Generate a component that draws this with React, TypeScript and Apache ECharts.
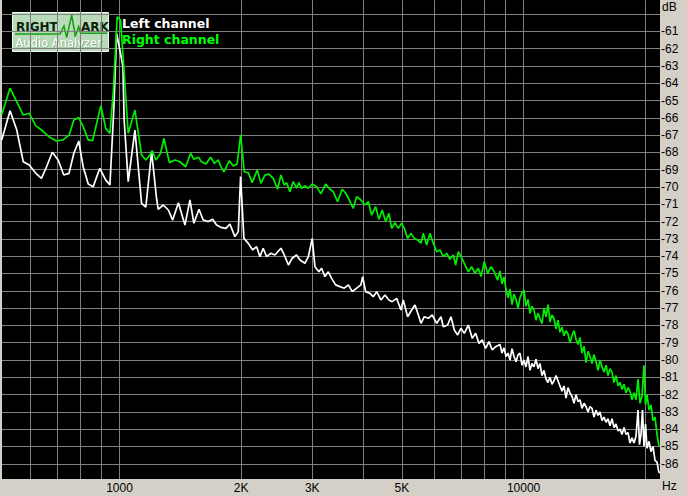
import React, { useEffect, useRef } from "react";
import * as echarts from "echarts";

// Frequency grid (Hz) and labels
const xGridValues: number[] = [600, 700, 800, 900, 1000, 2000, 3000, 4000, 5000, 6000, 7000, 8000, 9000, 10000, 20000];
const xLabelValues: number[] = [1000, 2000, 3000, 5000, 10000];
const xLabelTexts: string[] = ["1000", "2K", "3K", "5K", "10000"];

// Level grid (dB)
const yGridValues: number[] = [-86, -85, -84, -83, -82, -81, -80, -79, -78, -77, -76, -75, -74, -73, -72, -71, -70, -69, -68, -67, -66, -65, -64, -63, -62, -61, -60];
const yLabelValues: number[] = [-86, -85, -84, -83, -82, -81, -80, -79, -78, -77, -76, -75, -74, -73, -72, -71, -70, -69, -68, -67, -66, -65, -64, -63, -62, -61];

const xMin = 512;
const xMax = 21758;
const yMin = -86.88;
const yMax = -59.19;

// Left channel: [frequency Hz, level dB]
const leftChannel: [number, number][] = [
  [511, -67.28], [536, -65.59], [557, -66.71], [578, -68.54], [598, -68.73], [621, -69.21], [641, -69.5], [660, -68.83],
  [682, -67.99], [705, -68.44], [728, -69.31], [750, -69.21], [771, -68.05], [793, -67.34], [813, -68.83], [837, -69.83],
  [861, -69.98], [894, -68.92], [925, -69.6], [947, -69.88], [968, -65.55], [984, -61.12], [1002, -62.08], [1020, -63.05],
  [1027, -66.13], [1051, -69.69], [1092, -66.71], [1134, -70.94], [1162, -71.17], [1201, -67.96], [1235, -70.65], [1247, -71.29],
  [1283, -71.04], [1321, -71.33], [1354, -71.91], [1399, -70.91], [1452, -72.2], [1494, -70.75], [1528, -72.1], [1573, -71.29],
  [1611, -71.91], [1659, -72.0], [1700, -71.86], [1739, -72.2], [1782, -72.33], [1834, -72.39], [1876, -72.14], [1930, -72.87],
  [1968, -72.58], [1994, -69.4], [2032, -72.97], [2084, -73.26], [2136, -73.64], [2185, -73.45], [2226, -74.03], [2268, -73.54],
  [2313, -74.03], [2370, -73.83], [2425, -73.93], [2509, -73.54], [2557, -73.93], [2619, -74.51], [2675, -74.12], [2744, -73.93],
  [2796, -74.22], [2877, -74.41], [2933, -74.03], [2999, -72.97], [3046, -74.61], [3116, -74.9], [3163, -74.7], [3224, -75.18],
  [3287, -74.9], [3349, -75.28], [3427, -75.66], [3512, -75.76], [3600, -75.85], [3684, -75.66], [3767, -76.05], [3863, -75.85],
  [3958, -75.66], [3997, -75.18], [4066, -76.05], [4167, -76.15], [4246, -76.34], [4330, -76.05], [4436, -76.53], [4539, -76.24],
  [4643, -76.53], [4731, -76.63], [4852, -76.44], [4972, -77.11], [5038, -76.53], [5165, -77.5], [5285, -77.11], [5386, -76.82],
  [5491, -77.4], [5573, -77.88], [5680, -77.5], [5813, -77.59], [5942, -77.4], [6095, -77.88], [6245, -77.5], [6328, -78.08],
  [6487, -77.98], [6612, -77.5], [6738, -78.27], [6867, -78.55], [7000, -78.17], [7134, -78.46], [7299, -77.98], [7464, -78.75],
  [7611, -78.46], [7756, -79.04], [7901, -78.84], [8057, -79.33], [8211, -78.94], [8365, -79.42], [8530, -79.23],
  [8742, -79.1], [8843, -79.6], [8944, -79.3], [9047, -79.8], [9151, -79.6], [9255, -80.0], [9362, -79.35], [9470, -79.8],
  [9579, -80.1], [9689, -79.7], [9797, -79.6], [9910, -80.3], [10024, -80.0], [10139, -80.4], [10256, -79.8], [10372, -80.6],
  [10491, -80.2], [10612, -80.4], [10734, -79.95], [10857, -80.5], [10980, -80.2], [11106, -80.9], [11234, -80.6], [11363, -81.1],
  [11494, -81.3], [11624, -81.0], [11758, -81.4], [11893, -81.2], [12030, -80.9], [12168, -81.2], [12306, -81.5], [12448, -81.8],
  [12591, -81.5], [12736, -82.2], [12882, -81.6], [13028, -81.9], [13178, -82.1], [13330, -82.5], [13483, -82.0], [13638, -82.4],
  [13792, -82.3], [13951, -82.8], [14111, -82.5], [14274, -82.7], [14438, -83.0], [14601, -82.7], [14769, -82.8], [14939, -83.3],
  [15111, -82.9], [15285, -83.2], [15457, -83.0], [15635, -83.5], [15815, -83.3], [15997, -83.6], [16181, -83.4], [16364, -83.8],
  [16552, -83.4], [16743, -83.9], [16935, -83.7], [17130, -84.1], [17323, -84.0], [17522, -84.3], [17724, -83.9], [17928, -84.3],
  [18134, -84.2], [18339, -84.8], [18550, -84.5], [18764, -84.8], [18979, -84.4], [19198, -82.9], [19358, -84.9], [19525, -84.3],
  [19693, -82.9], [19863, -85.0], [20034, -83.7], [20207, -85.1], [20437, -84.7], [20670, -85.3], [20908, -85.0], [21149, -85.8],
  [21392, -85.9], [21578, -86.4], [21700, -86.55],
];

// Right channel: [frequency Hz, level dB]
const rightChannel: [number, number][] = [
  [511, -65.84], [536, -64.29], [578, -65.84], [598, -65.74], [621, -66.47], [645, -66.75], [672, -67.13], [698, -67.34],
  [725, -67.28], [751, -66.99], [771, -66.13], [793, -65.99], [813, -66.51], [837, -67.28], [858, -67.32], [899, -65.3],
  [925, -66.61], [947, -66.9], [966, -64.4], [987, -60.16], [1006, -60.35], [1022, -62.66], [1051, -66.9], [1092, -65.55],
  [1134, -68.15], [1162, -68.44], [1189, -68.15], [1205, -67.9], [1231, -68.44], [1264, -68.05], [1288, -67.19], [1329, -68.59],
  [1372, -68.44], [1411, -68.54], [1458, -68.83], [1500, -68.05], [1528, -68.4], [1568, -68.28], [1596, -68.54], [1636, -68.67],
  [1681, -68.28], [1716, -68.63], [1756, -68.44], [1779, -68.79], [1813, -69.12], [1870, -68.48], [1912, -68.79], [1955, -68.67],
  [1994, -66.99], [2036, -69.12], [2084, -69.18], [2130, -69.75], [2192, -69.02], [2239, -69.79], [2290, -69.31], [2343, -69.25],
  [2402, -69.5], [2462, -70.13], [2509, -69.31], [2557, -69.88], [2592, -69.75], [2641, -70.27], [2691, -69.69], [2744, -70.07],
  [2780, -69.75], [2823, -70.07], [2877, -69.94], [2933, -70.07], [2999, -69.83], [3075, -69.98], [3151, -70.4], [3237, -69.83],
  [3317, -70.13], [3380, -70.27], [3465, -70.85], [3558, -70.13], [3628, -70.36], [3697, -70.71], [3789, -71.23], [3863, -70.56],
  [3958, -70.75], [4050, -71.04], [4129, -70.85], [4207, -71.62], [4305, -71.14], [4387, -71.87], [4468, -71.33], [4557, -72.0],
  [4643, -71.52], [4715, -72.39], [4805, -72.07], [4899, -72.39], [4992, -72.1], [5068, -72.39], [5165, -72.97], [5264, -72.68],
  [5365, -72.97], [5467, -73.06], [5573, -73.25], [5646, -72.68], [5757, -73.35], [5866, -72.68], [5977, -73.25], [6095, -73.74],
  [6210, -73.64], [6328, -74.03], [6452, -73.83], [6574, -74.18], [6699, -73.93], [6791, -74.51], [6896, -73.74], [7000, -74.03],
  [7134, -74.41], [7299, -74.9], [7439, -74.61], [7582, -74.99], [7729, -74.7], [7845, -75.18], [7995, -74.32], [8148, -74.99],
  [8305, -74.61], [8464, -74.9], [8626, -75.38],
  [8742, -74.85], [8843, -75.6], [8944, -75.2], [9047, -75.9], [9151, -76.4], [9255, -75.9], [9362, -76.8], [9470, -76.2],
  [9579, -76.5], [9689, -77.0], [9797, -76.4], [9910, -76.1], [10024, -75.95], [10139, -76.9], [10256, -76.5], [10372, -77.3],
  [10491, -76.9], [10612, -77.1], [10734, -77.7], [10857, -77.3], [10980, -77.6], [11106, -77.9], [11234, -77.0], [11363, -77.5],
  [11494, -76.8], [11624, -77.8], [11758, -77.4], [11893, -77.6], [12030, -78.2], [12168, -77.7], [12306, -78.4], [12448, -78.1],
  [12591, -78.6], [12736, -78.3], [12882, -78.5], [13028, -79.0], [13178, -78.6], [13330, -78.3], [13483, -78.8], [13638, -79.1],
  [13792, -78.7], [13951, -79.6], [14111, -79.2], [14274, -80.15], [14438, -79.5], [14601, -79.8], [14769, -80.2], [14939, -79.7],
  [15111, -80.1], [15285, -80.6], [15457, -80.0], [15635, -80.4], [15815, -80.7], [15997, -80.3], [16181, -80.9], [16364, -80.5],
  [16552, -80.7], [16743, -81.3], [16935, -80.9], [17130, -81.5], [17323, -81.3], [17522, -81.7], [17724, -81.4], [17928, -81.9],
  [18134, -81.6], [18339, -81.8], [18550, -82.3], [18764, -81.9], [18979, -82.3], [19198, -81.1], [19414, -82.5], [19637, -82.1],
  [19863, -80.3], [20034, -82.6], [20207, -82.0], [20437, -82.9], [20670, -82.6], [20908, -83.5], [21149, -83.3], [21392, -84.3],
  [21636, -85.0],
];

const axisFont = '"Liberation Sans Narrow", "Arial Narrow", "Liberation Sans", Arial, sans-serif';
const legendFont = '"DejaVu Sans", Verdana, sans-serif';

export default function App() {
  const ref = useRef<HTMLDivElement>(null);

  useEffect(() => {
    if (!ref.current) return;
    const chart = echarts.init(ref.current, null, { renderer: "svg" });
    const gridColor = "#808080";
    const option: any = {
      animation: false,
      backgroundColor: "#d4d0c8",
      grid: {
        left: 2,
        right: 27,
        top: 0,
        bottom: 17,
        show: true,
        backgroundColor: "#000000",
        borderWidth: 0,
      },
      xAxis: {
        type: "log",
        logBase: 10,
        min: xMin,
        max: xMax,
        axisLine: { show: false },
        axisTick: { show: false, customValues: xGridValues },
        minorTick: { show: false },
        minorSplitLine: { show: false },
        splitLine: { show: true, lineStyle: { color: gridColor, width: 1 } },
        axisLabel: {
          customValues: xLabelValues,
          formatter: (v: number) => {
            const i = xLabelValues.findIndex((x) => Math.abs(x - v) < 1);
            return i >= 0 ? xLabelTexts[i] : "";
          },
          margin: 3,
          color: "#000000",
          fontFamily: axisFont,
          fontSize: 12,
        },
      },
      yAxis: {
        type: "value",
        position: "right",
        min: yMin,
        max: yMax,
        axisLine: { show: false },
        axisTick: { show: false, customValues: yGridValues },
        splitLine: { show: true, lineStyle: { color: gridColor, width: 1 } },
        axisLabel: {
          customValues: yLabelValues,
          formatter: (v: number) => String(Math.round(v)),
          margin: 1,
          color: "#000000",
          fontFamily: axisFont,
          fontSize: 12,
        },
      },
      series: [
        {
          name: "Left channel",
          type: "line",
          data: leftChannel,
          showSymbol: false,
          symbol: "none",
          lineStyle: { color: "#ffffff", width: 1.7 },
          z: 3,
        },
        {
          name: "Right channel",
          type: "line",
          data: rightChannel,
          showSymbol: false,
          symbol: "none",
          lineStyle: { color: "#00ee00", width: 1.7 },
          z: 4,
        },
      ],
      graphic: [
        {
          type: "text",
          left: 662,
          top: 1,
          style: { text: "dB", fill: "#000", font: `12px ${axisFont}` },
          z: 10,
        },
        {
          type: "text",
          left: 662,
          top: 480,
          style: { text: "Hz", fill: "#000", font: `12px ${axisFont}` },
          z: 10,
        },
        {
          type: "group",
          z: 20,
          children: [
            {
              type: "rect",
              shape: { x: 12.5, y: 12.5, width: 96, height: 39 },
              style: { fill: "#b9dbb9", stroke: "#f0f8f0", lineWidth: 1 },
            },
            {
              type: "polyline",
              shape: {
                points: [
                  [15, 34], [60, 34], [64, 26], [66.7, 37.3], [71.7, 15], [75.3, 36], [78.7, 26.7], [80.7, 33.3], [107, 33.3],
                ],
              },
              style: { stroke: "#12a012", lineWidth: 1.5, fill: "none" },
            },
            {
              type: "text",
              x: 16,
              y: 27,
              style: { text: "RIGHT", fill: "#0c200c", font: `bold 12px ${legendFont}`, verticalAlign: "middle" },
            },
            {
              type: "text",
              x: 81,
              y: 27,
              style: { text: "ARK", fill: "#0c200c", font: `bold 12px ${legendFont}`, verticalAlign: "middle" },
            },
            {
              type: "text",
              x: 15.5,
              y: 42.5,
              style: {
                text: "Audio Analyzer",
                fill: "#ffffff",
                font: `11.5px ${legendFont}`,
                verticalAlign: "middle",
                textShadowColor: "rgba(60,100,60,0.6)",
                textShadowBlur: 1,
                textShadowOffsetX: 0.5,
                textShadowOffsetY: 0.5,
              },
            },
          ],
        },
        {
          type: "text",
          x: 122,
          y: 23,
          z: 20,
          style: { text: "Left channel", fill: "#ffffff", font: `bold 12.5px ${legendFont}`, verticalAlign: "middle" },
        },
        {
          type: "text",
          x: 122,
          y: 39,
          z: 20,
          style: { text: "Right channel", fill: "#00ff00", font: `bold 12.5px ${legendFont}`, verticalAlign: "middle" },
        },
      ],
    };
    chart.setOption(option);
    return () => chart.dispose();
  }, []);

  return (
    <div
      ref={ref}
      style={{ position: "fixed", left: 0, top: 0, width: 687, height: 496 }}
    />
  );
}
